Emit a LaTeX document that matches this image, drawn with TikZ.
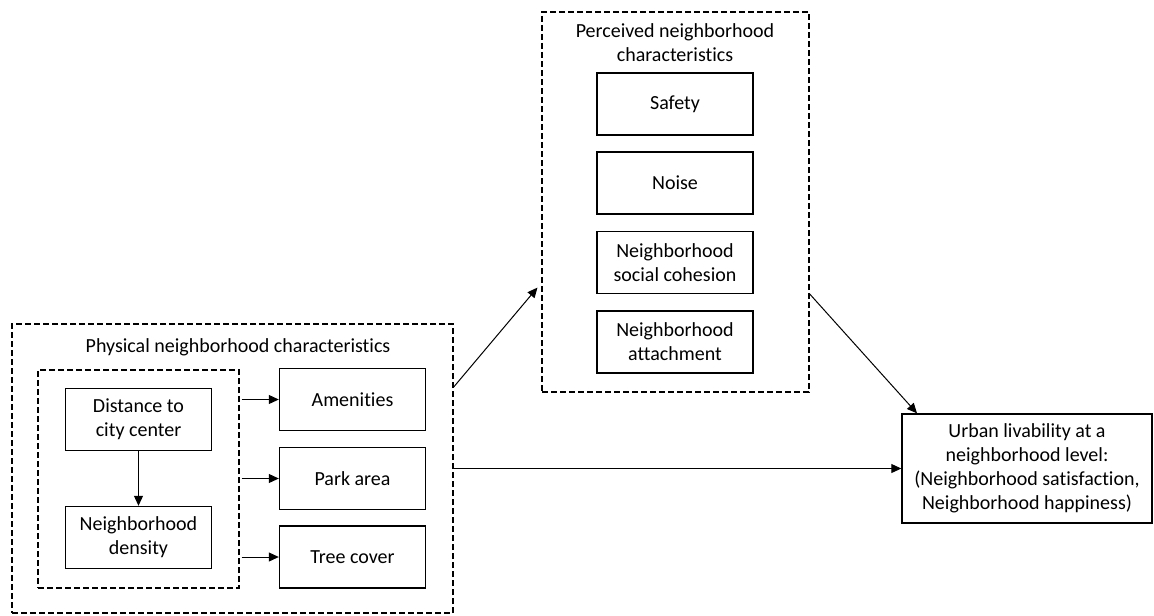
\documentclass[tikz,border=0pt]{standalone}
\usepackage{fontspec}
\setmainfont{Carlito}[Ligatures=NoCommon]
\usepackage{tikz}
\usetikzlibrary{arrows.meta, positioning}

\begin{document}
\begin{tikzpicture}[x=0.5pt, y=-0.5pt,
	box/.style={draw, line width=0.7pt, align=center, inner sep=0pt, minimum width=73pt, minimum height=31pt},
	pbox/.style={box, minimum width=78pt},
	group/.style={draw, line width=0.7pt, dash pattern=on 3pt off 1.5pt, inner sep=0pt},
	arr/.style={-{Triangle[length=5pt, width=4.5pt]}, line width=0.5pt}]
	\useasboundingbox (0,0) rectangle (1154,615);
	\node[group, minimum width=220.5pt, minimum height=144.5pt] (phys) at (232.5,468.5) {};
	\node (physT) at (238,347) {Physical neighborhood characteristics};
	\node[group, minimum width=100.5pt, minimum height=109pt] (inner) at (138.5,479) {};
	\node[box] (dist) at (138.5,419.5) {Distance to\\city center};
	\node[box] (dens) at (138.5,537.5) {Neighborhood\\density};
	\node[box] (amen) at (352.5,399.5) {Amenities};
	\node[box] (park) at (352.5,478.5) {Park area};
	\node[box] (tree) at (352.5,557) {Tree cover};
	\node[group, minimum width=133.5pt, minimum height=190pt] (perc) at (675.5,202) {};
	\node[align=center] (percT) at (675,43) {Perceived neighborhood\\characteristics};
	\node[pbox] (safe) at (675,104) {Safety};
	\node[pbox] (noise) at (675,183) {Noise};
	\node[pbox] (cohes) at (675,262.5) {Neighborhood\\social cohesion};
	\node[pbox] (attach) at (675,342) {Neighborhood\\attachment};
	\node[box, minimum width=125pt, minimum height=54.5pt] (urban) at (1027,468.5) {Urban livability at a\\neighborhood level:\\(Neighborhood satisfaction,\\Neighborhood happiness)};
	\draw[arr] (dist) -- (dens);
	\foreach \n in {amen, park, tree}
		\draw[arr, shorten <=1pt] (inner.east |- \n.west) -- (\n.west);
	\draw[arr, shorten >=3pt] ([yshift=40.75pt]phys.east) -- ([yshift=-40.5pt]perc.west);
	\draw[arr] ([yshift=-46pt]perc.east) -- ([xshift=-55pt]urban.north);
	\draw[arr] (phys.east) -- (urban.west);
\end{tikzpicture}
\end{document}
